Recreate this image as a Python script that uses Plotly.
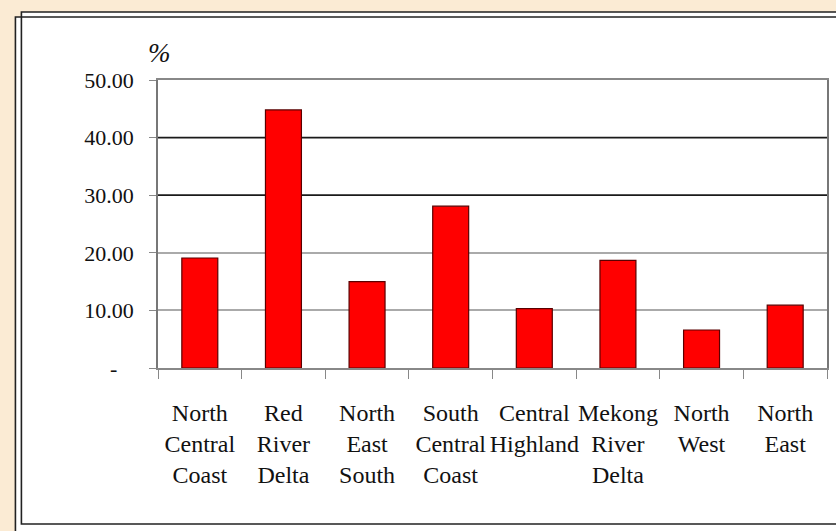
import plotly.graph_objects as go

categories = ["North<br>Central<br>Coast", "Red<br>River<br>Delta", "North<br>East<br>South",
              "South<br>Central<br>Coast", "Central<br>Highland", "Mekong<br>River<br>Delta",
              "North<br>West", "North<br>East"]
values = [19.1, 44.8, 15.0, 28.1, 10.3, 18.7, 6.6, 10.9]
y_tickvals = [0, 10, 20, 30, 40, 50]
y_ticktext = ["-\u00a0\u00a0\u00a0", "10.00", "20.00", "30.00", "40.00", "50.00"]
light_grid = [10, 20]
dark_grid = [30, 40]

W, H = 836, 531
L, R, T, B = 158, 7, 80, 163
pw, ph = W - L - R, H - T - B

def px(x):
    return (x - L) / pw

def py(y):
    return (H - B - y) / ph

serif = "Liberation Serif, Times New Roman, serif"

fig = go.Figure()
fig.add_trace(go.Bar(
    x=categories, y=values,
    marker=dict(color="#FF0000", line=dict(color="#5a0000", width=1.2)),
    width=0.43,
))

shapes = [
    dict(type="rect", xref="paper", yref="paper", x0=px(21), x1=px(845), y0=py(12), y1=py(524),
         fillcolor="white", line=dict(width=0), layer="below"),
    dict(type="rect", xref="paper", yref="paper", x0=px(15), x1=px(845), y0=py(17), y1=py(545),
         fillcolor="white", line=dict(width=0), layer="below"),
    dict(type="rect", xref="paper", yref="paper", x0=px(21), x1=px(845), y0=py(12), y1=py(524),
         line=dict(color="#222", width=1.6), layer="above"),
    dict(type="rect", xref="paper", yref="paper", x0=px(15), x1=px(845), y0=py(17), y1=py(545),
         line=dict(color="#222", width=1.6), layer="above"),
]
for g in dark_grid:
    shapes.append(dict(type="line", xref="paper", yref="y", x0=0, x1=1, y0=g, y1=g,
                       line=dict(color="#1a1a1a", width=1.8), layer="below"))

fig.update_layout(
    width=W, height=H,
    margin=dict(l=L, r=R, t=T, b=B),
    paper_bgcolor="#FBEBD4",
    plot_bgcolor="rgba(0,0,0,0)",
    showlegend=False,
    shapes=shapes,
    font=dict(family=serif, color="#111"),
    xaxis=dict(
        tickangle=0, tickson="boundaries", ticks="outside", ticklen=9, tickcolor="#888",
        showline=True, linecolor="#888", linewidth=1.5, mirror=True,
        tickfont=dict(size=24, family=serif, color="#111"), ticklabelstandoff=22,
        showgrid=False,
    ),
    yaxis=dict(
        range=[0, 50], tickvals=y_tickvals, ticktext=y_ticktext,
        ticks="outside", ticklen=7, tickcolor="#888",
        showline=True, linecolor="#777", linewidth=1.5, mirror=True,
        showgrid=False, zeroline=False,
        minor=dict(tickvals=light_grid, showgrid=True, gridcolor="#aaaaaa", gridwidth=1.8, ticks=""),
        tickfont=dict(size=22, family=serif, color="#111"), ticklabelstandoff=11,
    ),
    annotations=[dict(text="<i>%</i>", xref="paper", yref="paper", x=px(160), y=py(53),
                      xanchor="center", yanchor="middle",
                      showarrow=False, font=dict(size=27, family=serif, color="#111"))],
)

fig.write_html("out.html")
